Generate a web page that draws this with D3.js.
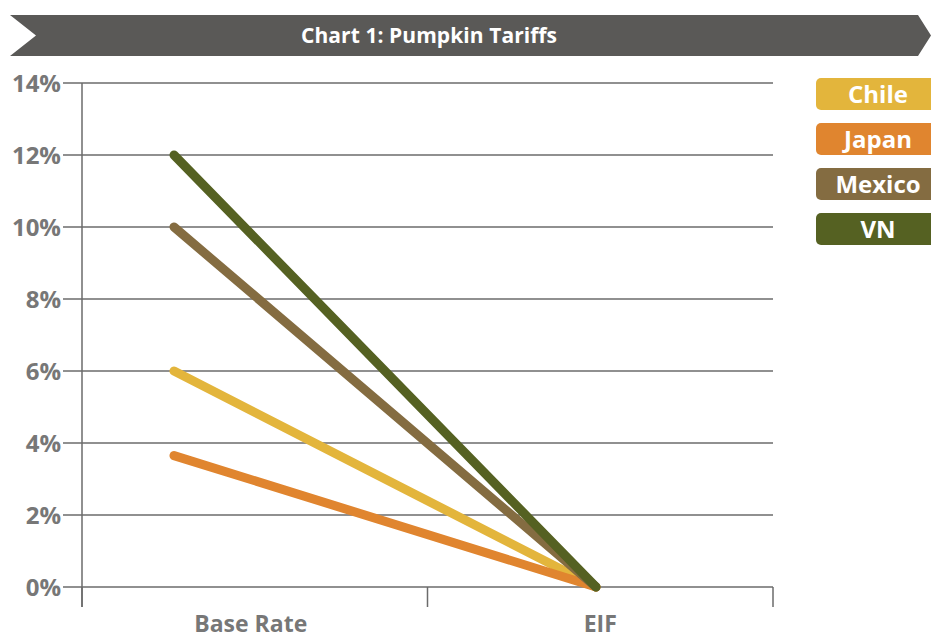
<!DOCTYPE html>
<html>
<head>
<meta charset="utf-8">
<script src="https://cdn.jsdelivr.net/npm/d3@7"></script>
<style>
  html, body { margin: 0; padding: 0; background: #fff; }
  svg { display: block; font-family: "Open Sans", "Noto Sans", sans-serif; }
</style>
</head>
<body>
<div id="chart"></div>
<script>
const title = "Chart 1: Pumpkin Tariffs";
const categories = ["Base Rate", "EIF"];
const seriesNames = ["Chile", "Japan", "Mexico", "VN"];
const seriesColors = ["#e3b53c", "#e0852f", "#846c41", "#556122"];
const chileValues = [6, 0];
const japanValues = [3.65, 0];
const mexicoValues = [10, 0];
const vnValues = [12, 0];
const yTicks = [0, 2, 4, 6, 8, 10, 12, 14];

const series = [
    {name: seriesNames[0], color: seriesColors[0], values: chileValues},
    {name: seriesNames[1], color: seriesColors[1], values: japanValues},
    {name: seriesNames[2], color: seriesColors[2], values: mexicoValues},
    {name: seriesNames[3], color: seriesColors[3], values: vnValues}
];

const width = 931, height = 639;
const svg = d3.select('#chart')
    .append('svg')
    .attr('width', width)
    .attr('height', height);

// title banner
const bTop = 15, bBot = 56, bMid = (bTop + bBot) / 2;
svg.append('path')
    .attr('d', `M10,${bTop} L918,${bTop} L931,${bMid} L918,${bBot} L10,${bBot} L36,${bMid} Z`)
    .attr('fill', '#5a5957');
svg.append('text')
    .attr('x', 429).attr('y', bMid + 7)
    .attr('text-anchor', 'middle')
    .attr('fill', '#fff')
    .attr('font-size', 21)
    .attr('font-weight', 'bold')
    .attr('textLength', 256)
    .text(title);

// scales
const y = d3.scaleLinear().domain([0, 14]).range([587, 83]);
const xBand = d3.scaleBand().domain(categories).range([82, 773]);
const xPoint = d3.scalePoint().domain(categories).range([174, 596]);

const grid = '#6b6b6b';

// gridlines + y labels
svg.append('g').selectAll('line')
    .data(yTicks)
    .join('line')
    .attr('x1', 63).attr('x2', 773)
    .attr('y1', d => y(d)).attr('y2', d => y(d))
    .attr('stroke', grid).attr('stroke-width', 1.5);

svg.append('g').selectAll('text')
    .data(yTicks)
    .join('text')
    .attr('x', 61)
    .attr('y', d => y(d) + 9)
    .attr('text-anchor', 'end')
    .attr('fill', '#777')
    .attr('font-size', 24)
    .attr('font-weight', 'bold')
    .text(d => d + '%');

// y axis line
svg.append('line')
    .attr('x1', 82).attr('x2', 82)
    .attr('y1', y(14)).attr('y2', 607)
    .attr('stroke', grid).attr('stroke-width', 1.5);

// x ticks
const xTickPos = [82].concat(categories.map(c => xBand(c) + xBand.bandwidth()));
svg.append('g').selectAll('line')
    .data(xTickPos)
    .join('line')
    .attr('x1', d => d).attr('x2', d => d)
    .attr('y1', y(0)).attr('y2', 607)
    .attr('stroke', grid).attr('stroke-width', 1.5);

svg.append('g').selectAll('text')
    .data(categories)
    .join('text')
    .attr('x', (d, i) => xBand(d) + xBand.bandwidth() / 2 - (i === 0 ? 4 : 0))
    .attr('y', 632)
    .attr('text-anchor', 'middle')
    .attr('fill', '#777')
    .attr('font-size', 23)
    .attr('font-weight', 'bold')
    .text(d => d);

// lines
const line = d3.line()
    .x((d, i) => xPoint(categories[i]))
    .y(d => y(d));

svg.append('g').selectAll('path')
    .data(series)
    .join('path')
    .attr('d', d => line(d.values))
    .attr('fill', 'none')
    .attr('stroke', d => d.color)
    .attr('stroke-width', 9)
    .attr('stroke-linecap', 'round');

// legend
const legend = svg.append('g').selectAll('g')
    .data(series)
    .join('g')
    .attr('transform', (d, i) => `translate(816,${78 + i * 45})`);
legend.append('rect')
    .attr('width', 130).attr('height', 32)
    .attr('rx', 5)
    .attr('fill', d => d.color);
legend.append('text')
    .attr('x', 62).attr('y', 25)
    .attr('text-anchor', 'middle')
    .attr('fill', '#fff')
    .attr('font-size', 24)
    .attr('font-weight', 'bold')
    .text(d => d.name);
</script>
</body>
</html>
